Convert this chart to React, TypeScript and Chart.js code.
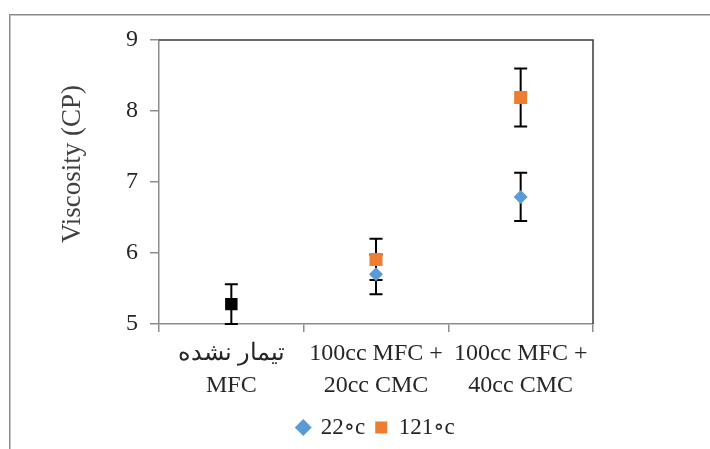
import React, { useEffect, useRef } from "react";
import { Chart, registerables } from "chart.js";

Chart.register(...registerables);

const categories: string[][] = [
  ["تیمار نشده", "MFC"],
  ["100cc MFC +", "20cc CMC"],
  ["100cc MFC +", "40cc CMC"],
];
const untreatedValues: (number | null)[] = [5.28, null, null];
const untreatedErrors: (number | null)[] = [0.28, null, null];
const values22: (number | null)[] = [null, 5.7, 6.79];
const errors22: (number | null)[] = [null, 0.28, 0.34];
const values121: (number | null)[] = [null, 5.91, 8.19];
const errors121: (number | null)[] = [null, 0.29, 0.41];
const yTicks = { min: 5, max: 9, step: 1 };
const yTitle = "Viscosity (CP)";

const errorsByDataset = [untreatedErrors, errors22, errors121];

const FONT = "'Liberation Serif', 'Times New Roman', 'DejaVu Serif', serif";
const AXIS_GRAY = "#8c8c8c";

const errorBarPlugin = {
  id: "errorBars",
  beforeDatasetsDraw(chart: any) {
    const ctx = chart.ctx;
    const yScale = chart.scales.y;
    ctx.save();
    ctx.strokeStyle = "#000";
    ctx.lineWidth = 2;
    chart.data.datasets.forEach((ds: any, i: number) => {
      const meta = chart.getDatasetMeta(i);
      const errs = errorsByDataset[i];
      ds.data.forEach((v: number | null, j: number) => {
        const e = errs[j];
        if (v == null || e == null) return;
        const x = meta.data[j].x;
        const yt = yScale.getPixelForValue(v + e);
        const yb = yScale.getPixelForValue(v - e);
        const cap = 6.5;
        ctx.beginPath();
        ctx.moveTo(x, yt);
        ctx.lineTo(x, yb);
        ctx.moveTo(x - cap, yt);
        ctx.lineTo(x + cap, yt);
        ctx.moveTo(x - cap, yb);
        ctx.lineTo(x + cap, yb);
        ctx.stroke();
      });
    });
    ctx.restore();
  },
};

const frameLinesPlugin = {
  id: "frameLines",
  beforeDatasetsDraw(chart: any) {
    const { ctx, chartArea } = chart;
    ctx.save();
    ctx.strokeStyle = "#3a3a3a";
    ctx.lineWidth = 1.5;
    ctx.beginPath();
    ctx.moveTo(chartArea.left, chartArea.top);
    ctx.lineTo(chartArea.right, chartArea.top);
    ctx.lineTo(chartArea.right, chartArea.bottom);
    ctx.stroke();
    ctx.restore();
  },
};

const yTitlePlugin = {
  id: "yTitle",
  afterDraw(chart: any) {
    const { ctx, chartArea } = chart;
    ctx.save();
    ctx.translate(73, (chartArea.top + chartArea.bottom) / 2 - 18);
    ctx.rotate(-Math.PI / 2);
    ctx.fillStyle = "#404040";
    ctx.font = `27px ${FONT}`;
    ctx.textAlign = "center";
    ctx.textBaseline = "middle";
    ctx.fillText(yTitle, 0, 0);
    ctx.restore();
  },
};

export default function App() {
  const canvasRef = useRef<HTMLCanvasElement | null>(null);

  useEffect(() => {
    if (!canvasRef.current) return;
    const chart = new Chart(canvasRef.current, {
      type: "line",
      data: {
        labels: categories,
        datasets: [
          {
            label: "untreated",
            data: untreatedValues,
            showLine: false,
            pointStyle: "rect",
            pointRadius: 8.8,
            pointHoverRadius: 8.8,
            backgroundColor: "#000",
            borderColor: "#000",
            borderWidth: 0,
          },
          {
            label: "22∘c",
            data: values22,
            showLine: false,
            pointStyle: "rectRot",
            pointRadius: 7,
            pointHoverRadius: 7,
            backgroundColor: "#5B9BD5",
            borderColor: "#5B9BD5",
            borderWidth: 0,
          },
          {
            label: "121∘c",
            data: values121,
            showLine: false,
            pointStyle: "rect",
            pointRadius: 9.2,
            pointHoverRadius: 9.2,
            backgroundColor: "#ED7D31",
            borderColor: "#ED7D31",
            borderWidth: 0,
          },
        ],
      },
      options: {
        animation: false,
        responsive: false,
        maintainAspectRatio: false,
        layout: { padding: { top: 40, right: 117, bottom: 0, left: 0 } },
        plugins: {
          tooltip: { enabled: false },
          legend: {
            position: "bottom",
            fullSize: false,
            labels: {
              usePointStyle: true,
              boxWidth: 12,
              boxHeight: 12,
              padding: 10,
              color: "#262626",
              font: { family: FONT, size: 23 },
              filter: (item: any) => item.datasetIndex !== 0,
            },
          },
        },
        scales: {
          x: {
            type: "category",
            offset: true,
            grid: {
              offset: true,
              drawOnChartArea: false,
              drawTicks: true,
              tickLength: 8,
              color: AXIS_GRAY,
              lineWidth: 1.5,
            },
            border: { color: AXIS_GRAY, width: 1.5 },
            ticks: {
              color: "#262626",
              padding: 6,
              maxRotation: 0,
              autoSkip: false,
              font: { family: FONT, size: 24, lineHeight: 1.33 },
            },
            afterFit: (scale: any) => {
              scale.height = 82;
            },
          },
          y: {
            min: yTicks.min,
            max: yTicks.max,
            grid: {
              drawOnChartArea: false,
              drawTicks: true,
              tickLength: 9,
              color: AXIS_GRAY,
              lineWidth: 1.5,
            },
            border: { color: AXIS_GRAY, width: 1.5 },
            ticks: {
              stepSize: yTicks.step,
              padding: 12,
              color: "#262626",
              font: { family: FONT, size: 24 },
            },
            title: { display: false },
            afterFit: (scale: any) => {
              scale.width = 159;
            },
          },
        },
      },
      plugins: [errorBarPlugin, frameLinesPlugin, yTitlePlugin],
    });
    return () => chart.destroy();
  }, []);

  return (
    <div
      style={{
        position: "fixed",
        left: 0,
        top: 0,
        width: 710,
        height: 449,
        overflow: "hidden",
        background: "#fff",
      }}
    >
      <div
        style={{
          position: "absolute",
          left: 9,
          top: 14,
          width: 800,
          height: 600,
          borderLeft: "1px solid #8a8a8a",
          borderTop: "1px solid #8a8a8a",
          boxShadow: "inset 1px 1px 0 #c4c4c4",
        }}
      />
      <canvas
        ref={canvasRef}
        width={710}
        height={449}
        style={{ position: "absolute", left: 0, top: 0, width: 710, height: 449 }}
      />
    </div>
  );
}
